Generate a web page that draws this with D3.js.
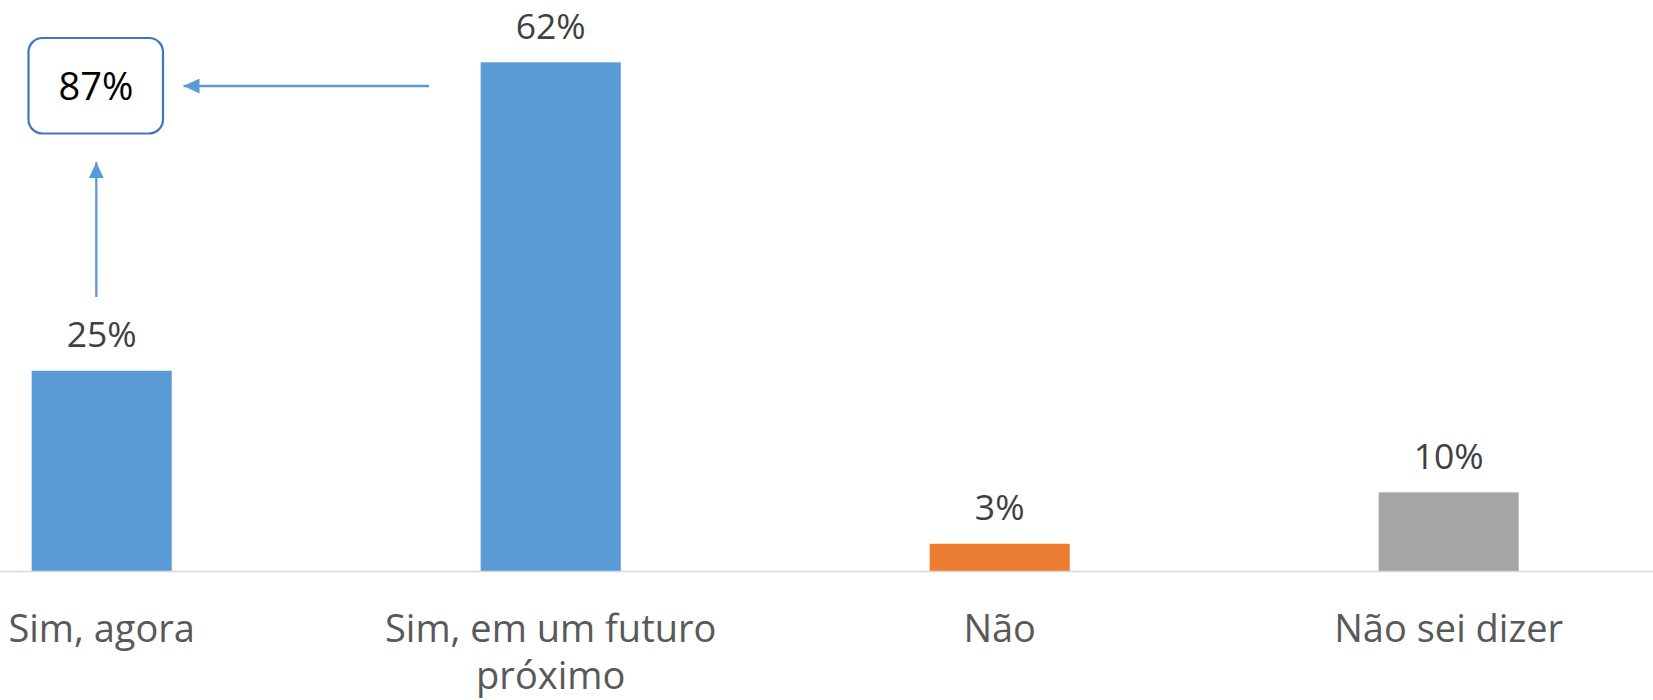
<!DOCTYPE html>
<html>
<head>
<meta charset="utf-8">
<script src="https://cdn.jsdelivr.net/npm/d3@7"></script>
<style>
  body { margin: 0; background: #fff; }
  svg { display: block; font-family: "Open Sans", sans-serif; }
</style>
</head>
<body>
<div id="chart"></div>
<script>
const categories = ["Sim, agora", "Sim, em um futuro próximo", "Não", "Não sei dizer"];
const values = [24.6, 62.4, 3.4, 9.7];
const barColors = ["#5B9BD5", "#5B9BD5", "#ED7D31", "#A5A5A5"];
// line breaks as in the original axis labels
const catLines = [["Sim, agora"], ["Sim, em um futuro", "próximo"], ["Não"], ["Não sei dizer"]];

const width = 1653, height = 700;
const baseY = 571.5;

const svg = d3.select("#chart")
  .append("svg")
  .attr("width", width)
  .attr("height", height);

const x = d3.scaleBand()
  .domain(categories)
  .range([-122.8, 1673.2])
  .paddingInner(0.688)
  .paddingOuter(0.344);

const y = d3.scaleLinear()
  .domain([0, 70])
  .range([baseY, baseY - 70 * 8.16]);

// bars
svg.selectAll(".bar")
  .data(values)
  .enter()
  .append("rect")
  .attr("class", "bar")
  .attr("x", (d, i) => x(categories[i]))
  .attr("y", d => y(d))
  .attr("width", x.bandwidth())
  .attr("height", d => y(0) - y(d))
  .attr("fill", (d, i) => barColors[i]);

// axis line
svg.append("line")
  .attr("x1", 0).attr("x2", width)
  .attr("y1", baseY).attr("y2", baseY)
  .attr("stroke", "#D9D9D9")
  .attr("stroke-width", 1.5);

// value labels
svg.selectAll(".vlabel")
  .data(values)
  .enter()
  .append("text")
  .attr("class", "vlabel")
  .attr("x", (d, i) => x(categories[i]) + x.bandwidth() / 2)
  .attr("y", d => y(d) - 23.5)
  .attr("text-anchor", "middle")
  .attr("font-size", 35.5)
  .attr("fill", "#404040")
  .text(d => Math.round(d) + "%");

// category labels
const cat = svg.selectAll(".clabel")
  .data(catLines)
  .enter()
  .append("text")
  .attr("class", "clabel")
  .attr("x", (d, i) => x(categories[i]) + x.bandwidth() / 2)
  .attr("y", baseY + 70)
  .attr("text-anchor", "middle")
  .attr("font-size", 38)
  .attr("fill", "#595959");

cat.selectAll("tspan")
  .data(d => d)
  .enter()
  .append("tspan")
  .attr("x", function() { return d3.select(this.parentNode).attr("x"); })
  .attr("dy", (d, i) => i === 0 ? 0 : 47)
  .text(d => d);

// annotation: total of the two "Sim" answers
const total = Math.round(values[0] + values[1]);
const arrowColor = "#5B9BD5";

const defs = svg.append("defs");
defs.append("marker")
  .attr("id", "head")
  .attr("viewBox", "0 0 16 15")
  .attr("refX", 16).attr("refY", 7.5)
  .attr("markerWidth", 16).attr("markerHeight", 15)
  .attr("markerUnits", "userSpaceOnUse")
  .attr("orient", "auto")
  .append("path")
  .attr("d", "M0,0 L16,7.5 L0,15 Z")
  .attr("fill", arrowColor);

svg.append("rect")
  .attr("x", 28.5).attr("y", 38)
  .attr("width", 134.5).attr("height", 95.5)
  .attr("rx", 14).attr("ry", 14)
  .attr("fill", "#fff")
  .attr("stroke", "#4472C4")
  .attr("stroke-width", 2.2);

svg.append("text")
  .attr("x", 96).attr("y", 100)
  .attr("text-anchor", "middle")
  .attr("font-size", 38)
  .attr("fill", "#000")
  .text(total + "%");

// arrow from the second bar
svg.append("line")
  .attr("x1", 429).attr("y1", 86)
  .attr("x2", 183.5).attr("y2", 86)
  .attr("stroke", arrowColor)
  .attr("stroke-width", 2.3)
  .attr("marker-end", "url(#head)");

// arrow from the first bar
svg.append("line")
  .attr("x1", 96.3).attr("y1", 297)
  .attr("x2", 96.3).attr("y2", 162.3)
  .attr("stroke", arrowColor)
  .attr("stroke-width", 2.3)
  .attr("marker-end", "url(#head)");
</script>
</body>
</html>
